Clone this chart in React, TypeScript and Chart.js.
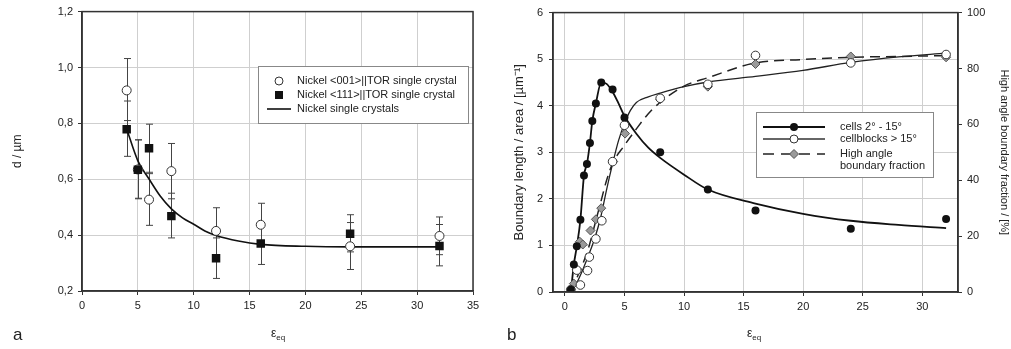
import React, { useEffect, useRef } from 'react';
import { Chart, registerables } from 'chart.js';

Chart.register(...registerables);

// ---------- Panel a data ----------
const aXTicks = [0, 5, 10, 15, 20, 25, 30, 35];
const aYTicks = [0.2, 0.4, 0.6, 0.8, 1.0, 1.2];
const aX = [4, 5, 6, 8, 12, 16, 24, 32];
const a001 = [0.918, 0.635, 0.527, 0.629, 0.415, 0.437, 0.36, 0.397];
const a001Lo = [0.81, 0.53, 0.435, 0.53, 0.33, 0.36, 0.277, 0.33];
const a001Hi = [1.032, 0.741, 0.625, 0.728, 0.498, 0.514, 0.445, 0.465];
const a111 = [0.779, 0.634, 0.711, 0.468, 0.317, 0.37, 0.405, 0.361];
const a111Lo = [0.682, 0.532, 0.62, 0.39, 0.245, 0.295, 0.34, 0.29];
const a111Hi = [0.88, 0.741, 0.797, 0.55, 0.39, 0.445, 0.473, 0.438];
const aFitX = [4, 5, 6, 7, 8, 9, 10, 11, 12, 14, 16, 20, 24, 28, 32];
const aFitY = [0.78, 0.666, 0.601, 0.54, 0.494, 0.462, 0.439, 0.415, 0.399, 0.379, 0.367, 0.36, 0.358, 0.358, 0.358];

// ---------- Panel b data ----------
const bXTicks = [0, 5, 10, 15, 20, 25, 30];
const bYTicks = [0, 1, 2, 3, 4, 5, 6];
const bY2Ticks = [0, 20, 40, 60, 80, 100];
const cellsX = [0.5, 0.75, 1.0, 1.3, 1.6, 1.85, 2.1, 2.3, 2.6, 3.05, 4.0, 5.0, 8, 12, 16, 24, 32];
const cellsY = [0.05, 0.59, 0.98, 1.55, 2.5, 2.75, 3.2, 3.67, 4.05, 4.5, 4.35, 3.75, 3.0, 2.2, 1.75, 1.36, 1.57];
const cellsFitX = [0.5, 0.75, 1.0, 1.3, 1.6, 1.85, 2.1, 2.3, 2.6, 3.05, 3.5, 4, 4.5, 5, 6, 7, 8, 10, 12, 16, 20, 24, 28, 32];
const cellsFitY = [0.0, 0.59, 0.98, 1.55, 2.5, 2.75, 3.2, 3.67, 4.05, 4.5, 4.47, 4.3, 4.05, 3.78, 3.4, 3.1, 2.88, 2.52, 2.2, 1.9, 1.68, 1.53, 1.44, 1.37];
const blocksX = [0.5, 1.0, 1.3, 1.9, 2.05, 2.6, 3.1, 4.0, 5.0, 8, 12, 16, 24, 32];
const blocksY = [0.05, 0.47, 0.15, 0.46, 0.75, 1.14, 1.53, 2.8, 3.58, 4.16, 4.46, 5.08, 4.92, 5.1];
const blocksFitX = [0.5, 1, 1.5, 2, 2.5, 3, 3.5, 4, 4.5, 5, 5.5, 6, 7, 8, 10, 12, 16, 20, 24, 28, 32];
const blocksFitY = [0, 0.2, 0.48, 0.8, 1.15, 1.6, 2.2, 2.75, 3.25, 3.62, 3.9, 4.07, 4.19, 4.27, 4.41, 4.51, 4.63, 4.76, 4.93, 5.05, 5.13];
const habX = [0.5, 0.75, 1.0, 1.25, 1.5, 2.15, 2.6, 3.05, 4.05, 5.05, 8, 12, 16, 24, 32];
const habPct = [1, 3, 8, 18, 17, 22, 26, 30, 46.7, 56.7, 69, 73.5, 81.6, 84.3, 84];
const habFitX = [0.5, 1, 1.5, 2, 2.5, 3, 3.5, 4, 5, 6, 7, 8, 10, 12, 16, 20, 24, 28, 32];
const habFitPct = [0, 5, 10, 16, 24, 32, 40, 46, 52.5, 58.4, 63.8, 67.9, 73.7, 76.7, 82, 83.2, 84, 84.3, 84.6];

const FONT = '"Liberation Sans", Arial, sans-serif';
Chart.defaults.font.family = FONT;
Chart.defaults.color = '#222';

const pts = (xs: number[], ys: number[]) => xs.map((x, i) => ({ x, y: ys[i] }));
const fixTicks = (vals: number[]) => (scale: any) => {
  scale.ticks = vals.map((v) => ({ value: v }));
};

const errorBarPlugin = {
  id: 'errBars',
  beforeDatasetsDraw(chart: any) {
    const ctx = chart.ctx;
    chart.data.datasets.forEach((ds: any) => {
      if (!ds.errLo) return;
      const xs = chart.scales[ds.xAxisID || 'x'];
      const ys = chart.scales[ds.yAxisID || 'y'];
      ctx.save();
      ctx.strokeStyle = '#444';
      ctx.lineWidth = 1;
      ds.data.forEach((p: any, j: number) => {
        const px = Math.round(xs.getPixelForValue(p.x)) + 0.5;
        const lo = ys.getPixelForValue(ds.errLo[j]);
        const hi = ys.getPixelForValue(ds.errHi[j]);
        ctx.beginPath();
        ctx.moveTo(px, lo);
        ctx.lineTo(px, hi);
        ctx.moveTo(px - 3.5, lo);
        ctx.lineTo(px + 3.5, lo);
        ctx.moveTo(px - 3.5, hi);
        ctx.lineTo(px + 3.5, hi);
        ctx.stroke();
      });
      ctx.restore();
    });
  },
  afterDatasetsDraw(chart: any) {
    const { left, top, width, height } = chart.chartArea;
    const ctx = chart.ctx;
    ctx.save();
    ctx.strokeStyle = '#333';
    ctx.lineWidth = 1.5;
    ctx.strokeRect(left, top, width, height);
    ctx.restore();
  },
};

function drawMarker(ctx: CanvasRenderingContext2D, kind: string, x: number, y: number) {
  ctx.save();
  ctx.lineWidth = 1;
  if (kind === 'open') {
    ctx.beginPath();
    ctx.arc(x, y, 4, 0, Math.PI * 2);
    ctx.fillStyle = '#fff';
    ctx.fill();
    ctx.strokeStyle = '#333';
    ctx.stroke();
  } else if (kind === 'filled') {
    ctx.beginPath();
    ctx.arc(x, y, 4, 0, Math.PI * 2);
    ctx.fillStyle = '#111';
    ctx.fill();
  } else if (kind === 'square') {
    ctx.fillStyle = '#111';
    ctx.fillRect(x - 4, y - 4, 8, 8);
  } else if (kind === 'diamond') {
    ctx.beginPath();
    ctx.moveTo(x, y - 4.5);
    ctx.lineTo(x + 4.5, y);
    ctx.lineTo(x, y + 4.5);
    ctx.lineTo(x - 4.5, y);
    ctx.closePath();
    ctx.fillStyle = '#9a9a9a';
    ctx.fill();
    ctx.strokeStyle = '#555';
    ctx.stroke();
  }
  ctx.restore();
}

const legendPlugin = {
  id: 'boxLegend',
  afterDraw(chart: any, _args: any, opts: any) {
    if (!opts || !opts.items) return;
    const ctx = chart.ctx;
    const b = opts.box;
    ctx.save();
    ctx.fillStyle = '#fff';
    ctx.fillRect(b.x, b.y, b.w, b.h);
    ctx.strokeStyle = '#888';
    ctx.lineWidth = 1;
    ctx.strokeRect(b.x + 0.5, b.y + 0.5, b.w, b.h);
    opts.items.forEach((it: any) => {
      if (it.line) {
        ctx.save();
        ctx.strokeStyle = it.line.color;
        ctx.lineWidth = it.line.width;
        ctx.setLineDash(it.line.dash || []);
        ctx.beginPath();
        ctx.moveTo(it.line.x1, it.y);
        ctx.lineTo(it.line.x2, it.y);
        ctx.stroke();
        ctx.restore();
      }
      if (it.marker) drawMarker(ctx, it.marker, it.mx, it.y);
      ctx.fillStyle = '#222';
      ctx.font = `${opts.fontSize}px ${FONT}`;
      ctx.textBaseline = 'middle';
      ctx.textAlign = 'left';
      (it.text as string[]).forEach((t, k) => ctx.fillText(t, opts.textX, it.y + k * opts.lineGap));
    });
    ctx.restore();
  },
};

const gridCommon = { color: '#cfcfcf', lineWidth: 1, tickLength: 4, tickColor: '#333' };
const borderCommon = { display: true, color: '#333', width: 1.5 };

function configA(): any {
  return {
    type: 'scatter',
    data: {
      datasets: [
        {
          label: 'Nickel <111>||TOR single crystal',
          data: pts(aX, a111),
          errLo: a111Lo,
          errHi: a111Hi,
          pointStyle: 'rect',
          pointRadius: 6,
          backgroundColor: '#111',
          borderColor: '#111',
          borderWidth: 0,
        },
        {
          label: 'Nickel <001>||TOR single crystal',
          data: pts(aX, a001),
          errLo: a001Lo,
          errHi: a001Hi,
          pointStyle: 'circle',
          pointRadius: 4.5,
          backgroundColor: '#fff',
          borderColor: '#333',
          borderWidth: 1,
        },
        {
          label: 'Nickel single crystals',
          data: pts(aFitX, aFitY),
          showLine: true,
          pointRadius: 0,
          borderColor: '#111',
          borderWidth: 1.6,
          cubicInterpolationMode: 'monotone',
        },
      ],
    },
    options: {
      responsive: false,
      animation: false,
      events: [],
      layout: { padding: { top: 10, right: 27, left: 0, bottom: 0 } },
      plugins: {
        legend: { display: false },
        tooltip: { enabled: false },
        boxLegend: {
          box: { x: 258, y: 66, w: 210, h: 57 },
          fontSize: 11,
          textX: 297,
          lineGap: 12,
          items: [
            { y: 81, marker: 'open', mx: 279, text: ['Nickel <001>||TOR single crystal'] },
            { y: 95, marker: 'square', mx: 279, text: ['Nickel <111>||TOR single crystal'] },
            { y: 109, line: { x1: 267, x2: 291, color: '#111', width: 1.6 }, text: ['Nickel single crystals'] },
          ],
        },
      },
      scales: {
        x: {
          type: 'linear',
          min: 0,
          max: 35,
          afterBuildTicks: fixTicks(aXTicks),
          afterFit: (s: any) => { s.height = 58; },
          grid: gridCommon,
          border: borderCommon,
          ticks: { font: { size: 11 }, padding: 4, color: '#222', maxRotation: 0 },
        },
        y: {
          type: 'linear',
          min: 0.2,
          max: 1.2,
          afterBuildTicks: fixTicks(aYTicks),
          afterFit: (s: any) => { s.width = 82; },
          grid: gridCommon,
          border: borderCommon,
          ticks: {
            font: { size: 11 },
            padding: 5,
            color: '#222',
            callback: (v: number) => v.toFixed(1).replace('.', ','),
          },
          title: { display: true, text: 'd / µm', font: { size: 12 }, padding: { top: 10, bottom: 0 }, color: '#222' },
        },
      },
    },
    plugins: [errorBarPlugin, legendPlugin],
  };
}

function configB(): any {
  return {
    type: 'scatter',
    data: {
      datasets: [
        {
          label: 'cells',
          data: pts(cellsX, cellsY),
          pointStyle: 'circle',
          pointRadius: 4,
          backgroundColor: '#111',
          borderColor: '#111',
          borderWidth: 0,
        },
        {
          label: 'cellblocks',
          data: pts(blocksX, blocksY),
          pointStyle: 'circle',
          pointRadius: 4.3,
          backgroundColor: '#fff',
          borderColor: '#333',
          borderWidth: 1,
        },
        {
          label: 'hab',
          data: pts(habX, habPct),
          yAxisID: 'y2',
          pointStyle: 'rectRot',
          pointRadius: 4.5,
          backgroundColor: '#9a9a9a',
          borderColor: '#555',
          borderWidth: 1,
        },
        {
          label: 'cells fit',
          data: pts(cellsFitX, cellsFitY),
          showLine: true,
          pointRadius: 0,
          borderColor: '#111',
          borderWidth: 1.8,
          cubicInterpolationMode: 'monotone',
        },
        {
          label: 'cellblocks fit',
          data: pts(blocksFitX, blocksFitY),
          showLine: true,
          pointRadius: 0,
          borderColor: '#222',
          borderWidth: 1.3,
          cubicInterpolationMode: 'monotone',
        },
        {
          label: 'hab fit',
          data: pts(habFitX, habFitPct),
          yAxisID: 'y2',
          showLine: true,
          pointRadius: 0,
          borderColor: '#222',
          borderWidth: 1.5,
          borderDash: [10, 6],
          cubicInterpolationMode: 'monotone',
        },
      ],
    },
    options: {
      responsive: false,
      animation: false,
      events: [],
      layout: { padding: { top: 9, right: 0, left: 0, bottom: 0 } },
      plugins: {
        legend: { display: false },
        tooltip: { enabled: false },
        boxLegend: {
          box: { x: 256, y: 112, w: 177, h: 65 },
          fontSize: 11,
          textX: 340,
          lineGap: 12,
          items: [
            { y: 127, line: { x1: 263, x2: 325, color: '#111', width: 2 }, marker: 'filled', mx: 294, text: ['cells 2° - 15°'] },
            { y: 139, line: { x1: 263, x2: 325, color: '#333', width: 1.3 }, marker: 'open', mx: 294, text: ['cellblocks > 15°'] },
            { y: 154, line: { x1: 263, x2: 325, color: '#222', width: 1.5, dash: [11, 7] }, marker: 'diamond', mx: 294, text: ['High angle', 'boundary fraction'] },
          ],
        },
      },
      scales: {
        x: {
          type: 'linear',
          min: -1,
          max: 33,
          afterBuildTicks: fixTicks(bXTicks),
          afterFit: (s: any) => { s.height = 57; },
          grid: gridCommon,
          border: borderCommon,
          ticks: { font: { size: 11 }, padding: 4, color: '#222', maxRotation: 0 },
        },
        y: {
          type: 'linear',
          position: 'left',
          min: 0,
          max: 6,
          afterBuildTicks: fixTicks(bYTicks),
          afterFit: (s: any) => { s.width = 53; },
          grid: gridCommon,
          border: borderCommon,
          ticks: { font: { size: 11 }, padding: 6, color: '#222' },
          title: { display: true, text: 'Boundary length / area / [µm⁻¹]', font: { size: 13 }, padding: { top: 12, bottom: 0 }, color: '#222' },
        },
        y2: {
          type: 'linear',
          position: 'right',
          min: 0,
          max: 100,
          afterBuildTicks: fixTicks(bY2Ticks),
          afterFit: (s: any) => { s.width = 53; },
          grid: { ...gridCommon, drawOnChartArea: false },
          border: borderCommon,
          ticks: { font: { size: 11 }, padding: 5, color: '#222' },
          title: { display: true, text: 'High angle boundary fraction / [%]', font: { size: 11 }, padding: { top: 0, bottom: 6 }, color: '#222' },
        },
      },
    },
    plugins: [errorBarPlugin, legendPlugin],
  };
}

export default function App() {
  const refA = useRef<HTMLCanvasElement>(null);
  const refB = useRef<HTMLCanvasElement>(null);

  useEffect(() => {
    const a = new Chart(refA.current as HTMLCanvasElement, configA());
    const b = new Chart(refB.current as HTMLCanvasElement, configB());
    return () => {
      a.destroy();
      b.destroy();
    };
  }, []);

  const label: React.CSSProperties = { position: 'absolute', fontFamily: FONT, color: '#222', lineHeight: 1 };

  return (
    <div style={{ position: 'fixed', left: 0, top: 0, width: 1011, height: 349, background: '#fff', overflow: 'hidden' }}>
      <canvas ref={refA} width={500} height={349} style={{ position: 'absolute', left: 0, top: 0, width: 500, height: 349 }} />
      <canvas ref={refB} width={511} height={349} style={{ position: 'absolute', left: 500, top: 0, width: 511, height: 349 }} />
      <div style={{ ...label, left: 13, top: 326, fontSize: 17 }}>a</div>
      <div style={{ ...label, left: 507, top: 326, fontSize: 17 }}>b</div>
      <div style={{ ...label, left: 271, top: 327, fontSize: 12 }}>
        ε<sub style={{ fontSize: 8 }}>eq</sub>
      </div>
      <div style={{ ...label, left: 747, top: 327, fontSize: 12 }}>
        ε<sub style={{ fontSize: 8 }}>eq</sub>
      </div>
    </div>
  );
}
